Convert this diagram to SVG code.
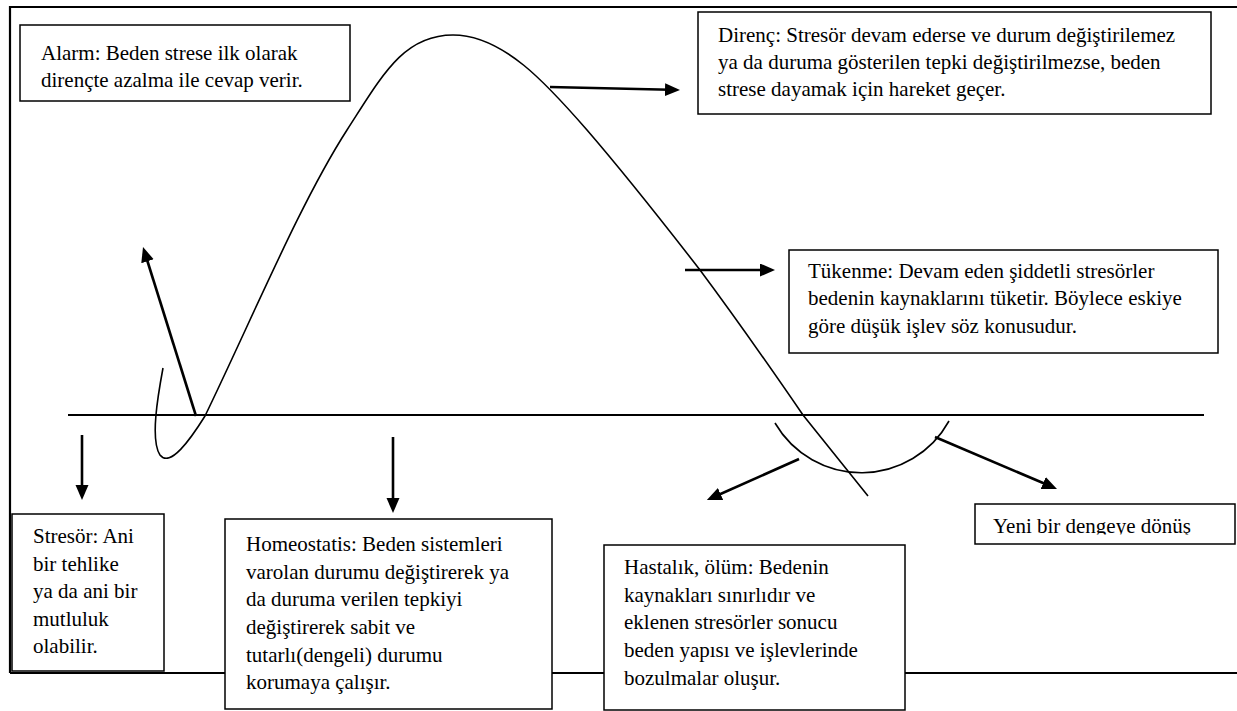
<svg xmlns="http://www.w3.org/2000/svg" width="1237" height="711" viewBox="0 0 1237 711">
  <style>
    .frame { stroke: #000; stroke-width: 2.2; fill: none; }
    .axis { stroke: #000; stroke-width: 2; fill: none; }
    .curve { stroke: #000; stroke-width: 1.6; fill: none; }
    .box { fill: #fff; stroke: #000; stroke-width: 1.5; }
    .arrow { stroke: #000; stroke-width: 2.6; fill: none; marker-end: url(#head); }
    .label { font-family: "Liberation Serif", "DejaVu Serif", serif; font-size: 21px; fill: #000; }
  </style>
  <defs>
    <marker id="head" markerUnits="userSpaceOnUse" markerWidth="16" markerHeight="14" refX="5" refY="6.5" orient="auto">
      <path d="M0,0 L15,6.5 L0,13 z" fill="#000"/>
    </marker>
    <clipPath id="yeniClip">
      <rect x="975" y="504" width="260" height="30.5"/>
    </clipPath>
  </defs>

  <rect width="1237" height="711" fill="#fff"/>

  <!-- outer frame -->
  <g id="frame">
    <path class="frame" d="M10,673 V7 H1237"/>
    <path class="frame" d="M10,673 H1237"/>
  </g>

  <!-- baseline and the stress-response curve -->
  <g id="curve">
    <line class="axis" x1="68" y1="415" x2="1204" y2="415"/>
    <path class="curve" d="M163,368 C158,395 150,440 160,455 C170,468 190,440 205,416 C252,319 300,203 347,130 C382,76 403,35 453,35 C503,35 547,84 587,130 C625,174 662,221 700,270 C735,317 768,364 803,415 L868,496"/>
    <path class="curve" d="M775,423 A100,100 0 0 0 949,421"/>
  </g>

  <!-- connectors -->
  <g id="connectors">
    <line class="arrow" x1="550" y1="87" x2="670" y2="89.8"/>
    <line class="arrow" x1="685" y1="270" x2="765" y2="270"/>
    <line class="arrow" x1="196" y1="416" x2="146" y2="256.5"/>
    <line class="arrow" x1="82" y1="435" x2="82" y2="490"/>
    <line class="arrow" x1="393" y1="437" x2="393" y2="503"/>
    <line class="arrow" x1="799" y1="459" x2="716" y2="496"/>
    <line class="arrow" x1="935" y1="437" x2="1047.8" y2="485"/>
  </g>

  <g id="alarm" class="label" font-family="Liberation Serif, DejaVu Serif, serif">
    <rect class="box" x="20" y="25" width="330" height="76"/>
    <text x="41" y="60">Alarm: Beden strese ilk olarak</text>
    <text x="41" y="87">dirençte azalma ile cevap verir.</text>
  </g>

  <g id="direnc" class="label" font-family="Liberation Serif, DejaVu Serif, serif">
    <rect class="box" x="698" y="12" width="513" height="102"/>
    <text x="718" y="42">Direnç: Stresör devam ederse ve durum değiştirilemez</text>
    <text x="718" y="69">ya da duruma gösterilen tepki değiştirilmezse, beden</text>
    <text x="718" y="96">strese dayamak için hareket geçer.</text>
  </g>

  <g id="tukenme" class="label" font-family="Liberation Serif, DejaVu Serif, serif">
    <rect class="box" x="789" y="250" width="429" height="103"/>
    <text x="808" y="278">Tükenme: Devam eden şiddetli stresörler</text>
    <text x="808" y="305">bedenin kaynaklarını tüketir. Böylece eskiye</text>
    <text x="808" y="333">göre düşük işlev söz konusudur.</text>
  </g>

  <g id="stresor" class="label" font-family="Liberation Serif, DejaVu Serif, serif">
    <rect class="box" x="12" y="514" width="152" height="157"/>
    <text x="33" y="543">Stresör: Ani</text>
    <text x="33" y="571">bir tehlike</text>
    <text x="33" y="598">ya da ani bir</text>
    <text x="33" y="626">mutluluk</text>
    <text x="33" y="653">olabilir.</text>
  </g>

  <g id="homeostatis" class="label" font-family="Liberation Serif, DejaVu Serif, serif">
    <rect class="box" x="225" y="519" width="327" height="190"/>
    <text x="246" y="551">Homeostatis: Beden sistemleri</text>
    <text x="246" y="579">varolan durumu değiştirerek ya</text>
    <text x="246" y="606">da duruma verilen tepkiyi</text>
    <text x="246" y="634">değiştirerek sabit ve</text>
    <text x="246" y="662">tutarlı(dengeli) durumu</text>
    <text x="246" y="689">korumaya çalışır.</text>
  </g>

  <g id="hastalik" class="label" font-family="Liberation Serif, DejaVu Serif, serif">
    <rect class="box" x="604" y="545" width="301" height="165"/>
    <text x="624" y="574">Hastalık, ölüm: Bedenin</text>
    <text x="624" y="602">kaynakları sınırlıdır ve</text>
    <text x="624" y="629">eklenen stresörler sonucu</text>
    <text x="624" y="657">beden yapısı ve işlevlerinde</text>
    <text x="624" y="685">bozulmalar oluşur.</text>
  </g>

  <g id="yeni-denge" class="label" font-family="Liberation Serif, DejaVu Serif, serif">
    <rect class="box" x="975" y="504" width="260" height="40"/>
    <text x="993" y="533" clip-path="url(#yeniClip)">Yeni bir dengeye dönüş</text>
  </g>
</svg>
